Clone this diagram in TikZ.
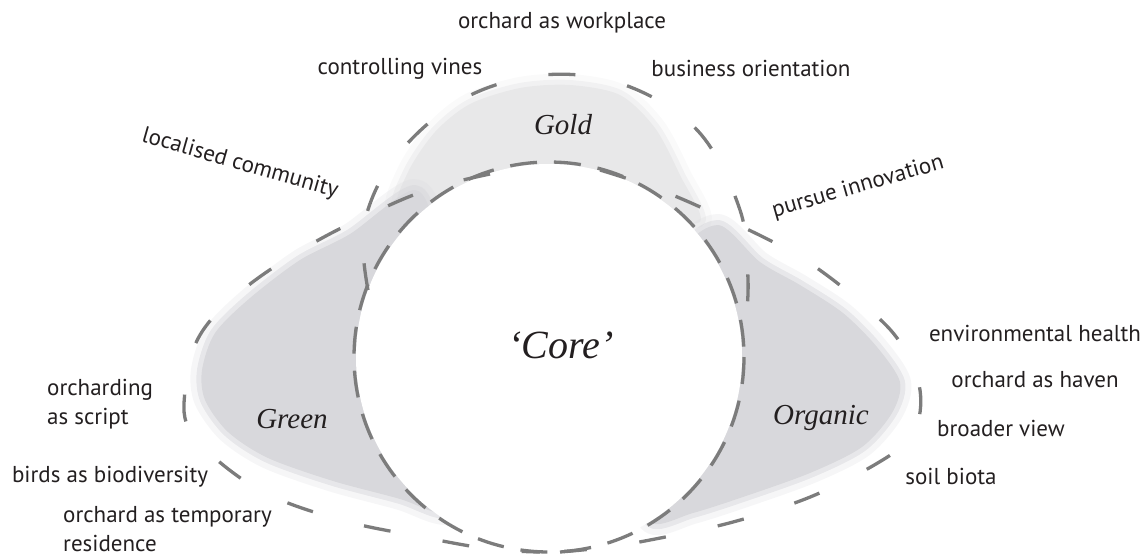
\documentclass[tikz,border=0pt]{standalone}
\usepackage{fontspec}
\newfontfamily\labfont{PT Sans}
\newfontfamily\itfont{Liberation Serif}
\definecolor{dashc}{RGB}{124,124,124}
\definecolor{shadeA}{RGB}{216,216,220}
\definecolor{shadeG}{RGB}{232,232,233}
\definecolor{txt}{RGB}{35,31,32}
\begin{document}
\begin{tikzpicture}[x=1pt,y=-1pt,
  lab/.style={font=\labfont\fontsize{23}{29}\selectfont, text=txt, inner sep=0pt},
  big/.style={font=\itfont\itshape\fontsize{29}{32}\selectfont, text=txt, inner sep=0pt},
  coredash/.style={draw=dashc, line width=3.3, dash pattern=on 27 off 17},
  outdash/.style={draw=dashc, line width=3.3, dash pattern=on 27 off 53},
  halo/.style={draw=#1, line width=22, draw opacity=0.22, line join=round},
  softfill/.style={fill=#1, draw=#1, line width=10, draw opacity=0.5, line join=round},
]
\useasboundingbox (0,0) rectangle (1147,557);

% shaded petals
\path[halo=shadeG] plot[smooth cycle] coordinates {(398,212) (408,172) (435,132) (470,104) (520,88) (570,85) (620,95) (655,128) (680,175) (700,222) (640,215) (550,205) (460,215)};
\path[softfill=shadeG] plot[smooth cycle] coordinates {(398,212) (408,172) (435,132) (470,104) (520,88) (570,85) (620,95) (655,128) (680,175) (700,222) (640,215) (550,205) (460,215)};

\path[halo=shadeA] plot[smooth cycle] coordinates {(415,190) (350,234) (300,260) (250,298) (215,333) (202,370) (205,400) (228,432) (268,458) (333,481) (400,499) (445,514) (490,500) (470,330) (440,240)};
\path[softfill=shadeA] plot[smooth cycle] coordinates {(415,190) (350,234) (300,260) (250,298) (215,333) (202,370) (205,400) (228,432) (268,458) (333,481) (400,499) (445,514) (490,500) (470,330) (440,240)};

\path[halo=shadeA] plot[smooth cycle] coordinates {(718,225) (760,262) (800,285) (843,313) (877,347) (900,382) (892,413) (862,447) (810,473) (743,497) (693,513) (650,522) (640,460) (680,380) (680,260)};
\path[softfill=shadeA] plot[smooth cycle] coordinates {(718,225) (760,262) (800,285) (843,313) (877,347) (900,382) (892,413) (862,447) (810,473) (743,497) (693,513) (650,522) (640,460) (680,380) (680,260)};

% white core
\fill[white] (549,357) circle (193);

% dashed outlines
\draw[coredash] (549,357) circle (195);
\draw[outdash] plot[smooth, tension=0.6] coordinates {(368,290) (364,225) (395,158) (461,100) (543,75) (625,85) (698,131) (740,210) (748,280) (745,330)};
\draw[outdash] plot[smooth, tension=0.6] coordinates {(490,174) (440,186) (392,204) (315,242) (245,288) (200,335) (185,390) (193,435) (256,488) (337,519) (422,537) (490,549) (540,552)};
\draw[outdash] plot[smooth, tension=0.6] coordinates {(600,170) (660,190) (728,220) (805,260) (872,312) (903,347) (920,390) (915,430) (889,456) (815,495) (733,522) (650,540) (600,548) (560,552)};

% region labels
\node[big] (gold) at (563,125) {Gold};
\node[big] (green) at (292,419) {Green};
\node[big] (organic) at (821,418) {Organic};
\node[big, font=\itfont\itshape\fontsize{40}{44}\selectfont] (core) at (561,345) {‘Core’};

% outer labels
\node[lab] (workplace) at (562,23) {orchard as workplace};
\node[lab] (vines) at (400,69) {controlling vines};
\node[lab] (business) at (751,68) {business orientation};
\node[lab, rotate=-16] (community) at (240,164) {localised community};
\node[lab, rotate=16] (innovation) at (858,187) {pursue innovation};
\node[lab] (envhealth) at (1035,333) {environmental health};
\node[lab] (haven) at (1035,380) {orchard as haven};
\node[lab] (broader) at (1001,428) {broader view};
\node[lab] (soil) at (951,476) {soil biota};
\node[lab, anchor=west, align=left] (script) at (47,404) {orcharding\\as script};
\node[lab] (birds) at (110,477) {birds as biodiversity};
\node[lab, anchor=west, align=left] (temporary) at (63,529) {orchard as temporary\\residence};
\end{tikzpicture}
\end{document}
